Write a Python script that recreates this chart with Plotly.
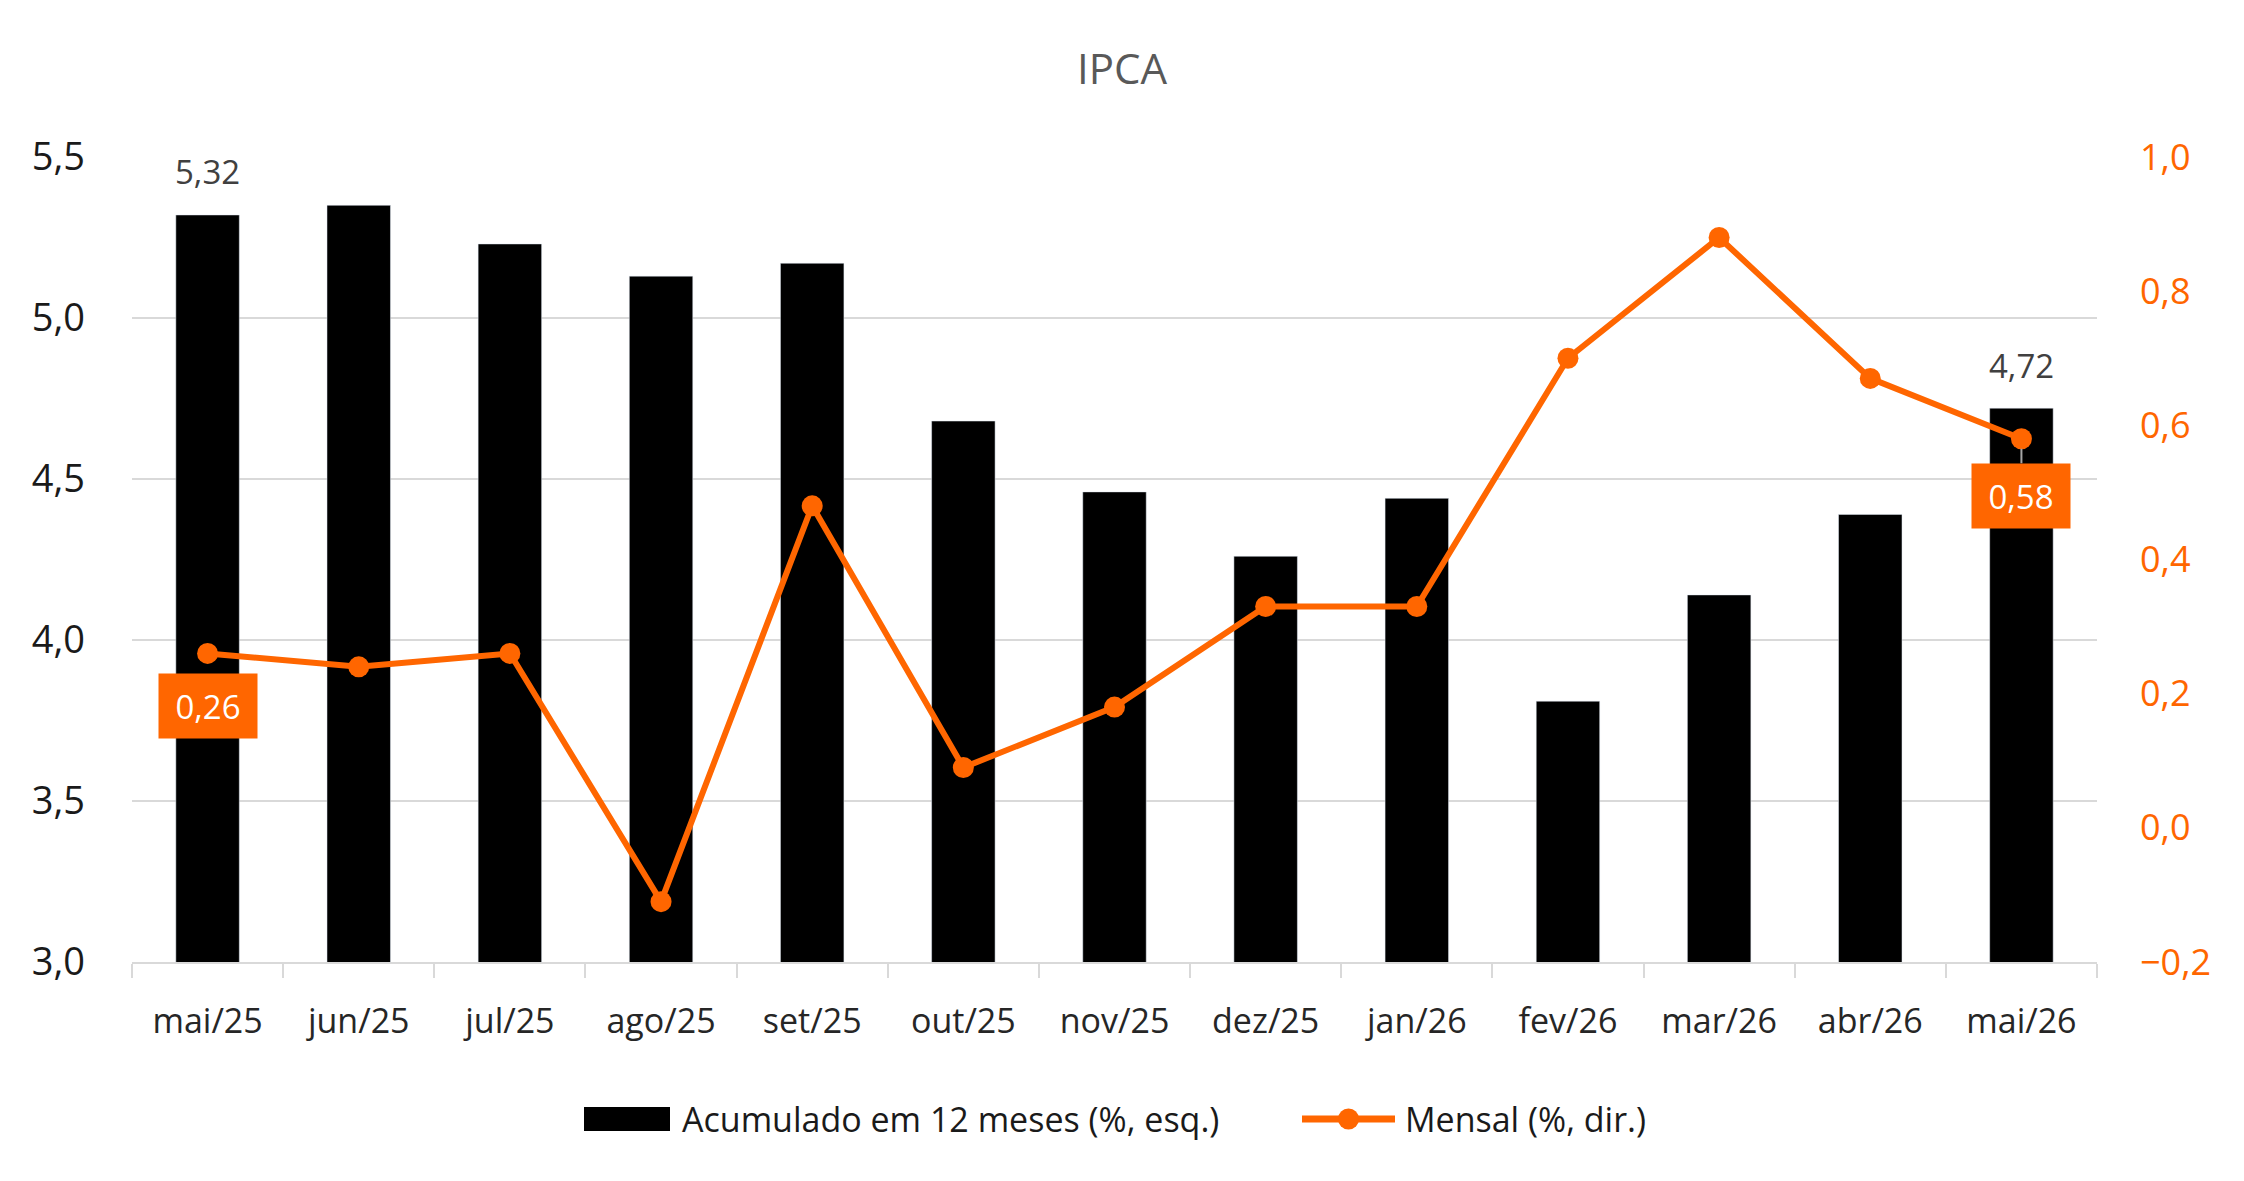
import plotly.graph_objects as go

meses = ["mai/25", "jun/25", "jul/25", "ago/25", "set/25", "out/25", "nov/25",
         "dez/25", "jan/26", "fev/26", "mar/26", "abr/26", "mai/26"]
acumulado_12m = [5.32, 5.35, 5.23, 5.13, 5.17, 4.68, 4.46, 4.26, 4.44, 3.81, 4.14, 4.39, 4.72]
mensal = [0.26, 0.24, 0.26, -0.11, 0.48, 0.09, 0.18, 0.33, 0.33, 0.70, 0.88, 0.67, 0.58]
nome_barras = "Acumulado em 12 meses (%, esq.)"
nome_linha = "Mensal (%, dir.)"

ORANGE = "#FF6600"
FONT = "Open Sans"

W, H = 2244, 1181
ML, MR, MT, MB = 132, 147, 157, 219
PW, PH = W - ML - MR, H - MT - MB

def px_x(x):
    return (x - ML) / PW

def px_y(y):
    return (H - MB - y) / PH

def fmt(v, nd=2):
    return f"{v:.{nd}f}".replace(".", ",")

fig = go.Figure()
fig.add_trace(go.Bar(
    x=meses, y=acumulado_12m, name=nome_barras,
    marker=dict(color="#000000"),
    yaxis="y", showlegend=False,
))
fig.add_trace(go.Scatter(
    x=meses, y=mensal, name=nome_linha, mode="lines+markers",
    line=dict(color=ORANGE, width=6),
    marker=dict(color=ORANGE, size=21),
    yaxis="y2", showlegend=False,
))

# labels above first and last bars
for i in (0, len(meses) - 1):
    fig.add_annotation(x=meses[i], y=acumulado_12m[i], xref="x", yref="y",
                       text=fmt(acumulado_12m[i]), showarrow=False,
                       yanchor="middle", yshift=43,
                       font=dict(family=FONT, size=33, color="#404040"))

# labels for first and last monthly values
fig.add_annotation(x=meses[0], y=mensal[0], xref="x", yref="y2",
                   text=fmt(mensal[0]), showarrow=False, yshift=-53,
                   bgcolor=ORANGE, borderpad=10, width=78, height=44,
                   font=dict(family=FONT, size=33, color="white"))
fig.add_annotation(x=meses[-1], y=mensal[-1], xref="x", yref="y2",
                   text=fmt(mensal[-1]), showarrow=True, ax=0, ay=57,
                   arrowhead=0, arrowwidth=2, arrowcolor="#A6A6A6", standoff=10,
                   bgcolor=ORANGE, borderpad=10, width=78, height=44,
                   font=dict(family=FONT, size=33, color="white"))

# manual legend
ly = 1119
fig.add_shape(type="rect", xref="paper", yref="paper",
              x0=px_x(584), x1=px_x(670), y0=px_y(ly + 12), y1=px_y(ly - 12),
              fillcolor="#000000", line=dict(width=0))
fig.add_annotation(xref="paper", yref="paper", x=px_x(680), y=px_y(ly),
                   xanchor="left", yanchor="middle", showarrow=False,
                   text=nome_barras, font=dict(family=FONT, size=34, color="#1a1a1a"))
fig.add_shape(type="line", xref="paper", yref="paper",
              x0=px_x(1302), x1=px_x(1395), y0=px_y(ly), y1=px_y(ly),
              line=dict(color=ORANGE, width=7))
fig.add_shape(type="circle", xref="paper", yref="paper",
              x0=px_x(1338), x1=px_x(1359), y0=px_y(ly + 10.5), y1=px_y(ly - 10.5),
              fillcolor=ORANGE, line=dict(width=0))
fig.add_annotation(xref="paper", yref="paper", x=px_x(1403), y=px_y(ly),
                   xanchor="left", yanchor="middle", showarrow=False,
                   text=nome_linha, font=dict(family=FONT, size=34, color="#1a1a1a"))

fig.update_layout(
    width=W, height=H,
    margin=dict(l=ML, r=MR, t=MT, b=MB),
    paper_bgcolor="white", plot_bgcolor="white",
    separators=",.",
    font=dict(family=FONT, size=34, color="#262626"),
    bargap=0.58,
    showlegend=False,
    title=dict(text="IPCA", x=0.5, xref="container", xanchor="center",
               y=1 - 69 / H, yanchor="middle",
               font=dict(family=FONT, size=42, color="#595959")),
    xaxis=dict(
        type="category", range=[-0.5, 12.5],
        showline=True, linecolor="#D9D9D9", linewidth=2,
        ticks="outside", tickson="boundaries", ticklen=14, tickcolor="#D9D9D9", tickwidth=2,
        tickfont=dict(family=FONT, size=34, color="#262626"),
        ticklabelstandoff=28,
        showgrid=False,
    ),
    yaxis=dict(
        range=[3.0, 5.5], dtick=0.5, tick0=3.0, tickformat=".1f",
        showgrid=True, gridcolor="#D9D9D9", gridwidth=2,
        zeroline=False, showline=False,
        tickfont=dict(family=FONT, size=38, color="#1a1a1a"),
        ticklabelstandoff=46,
    ),
    yaxis2=dict(
        overlaying="y", side="right",
        range=[-0.2, 1.0], dtick=0.2, tick0=-0.2, tickformat=".1f",
        showgrid=False, zeroline=False, showline=False,
        tickfont=dict(family=FONT, size=36, color=ORANGE),
        ticklabelstandoff=42,
    ),
)

fig.write_html("out.html")
